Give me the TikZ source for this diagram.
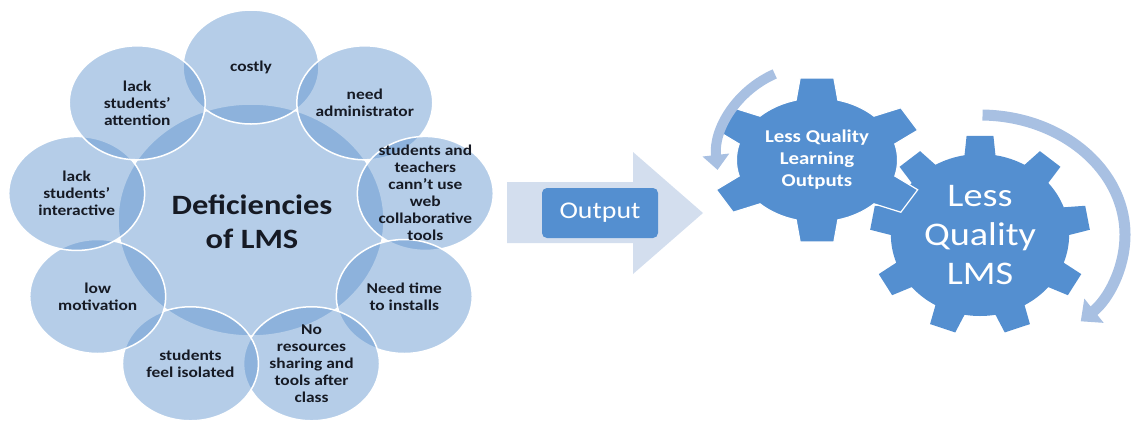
\documentclass[tikz,border=0pt]{standalone}
\usepackage{fontspec}
\setmainfont{Carlito}[FakeStretch=1.16]
\usetikzlibrary{arrows.meta,shapes.geometric}
\definecolor{circ}{RGB}{91,145,205}
\definecolor{gearblue}{RGB}{84,143,208}
\definecolor{bigarrow}{RGB}{211,222,238}
\definecolor{curv}{RGB}{168,192,226}
\definecolor{txt}{RGB}{22,26,36}
\begin{document}
\begin{tikzpicture}[x=1pt,y=-1pt,
  outerc/.style={ellipse, minimum width=136pt, minimum height=114pt, inner sep=0pt,
    fill=circ, fill opacity=0.45, draw=white, line width=1.5pt},
  centerc/.style={ellipse, minimum width=266pt, minimum height=232pt, inner sep=0pt,
    fill=circ, fill opacity=0.45, draw=white, line width=1.5pt},
  lbl/.style={align=center, text=txt, font=\fontsize{15}{17}\selectfont\bfseries, inner sep=0pt},
  gearfill/.style={fill=gearblue},
  curvarrow/.style={draw=curv, line width=10pt},
  whitetext/.style={align=center, text=white, inner sep=0pt}]
\useasboundingbox (0,0) rectangle (1138,424);

% radial circles
\node[centerc] (ctr) at (251,220) {};
\node[outerc] (c1) at ([shift={(-90:177 and 153)}]251,220) {};
\node[outerc] (c2) at ([shift={(-50:177 and 153)}]251,220) {};
\node[outerc] (c3) at ([shift={(-10:177 and 153)}]251,220) {};
\node[outerc] (c4) at ([shift={(30:177 and 153)}]251,220) {};
\node[outerc] (c5) at ([shift={(70:177 and 153)}]251,220) {};
\node[outerc] (c6) at ([shift={(110:177 and 153)}]251,220) {};
\node[outerc] (c7) at ([shift={(150:177 and 153)}]251,220) {};
\node[outerc] (c8) at ([shift={(190:177 and 153)}]251,220) {};
\node[outerc] (c9) at ([shift={(230:177 and 153)}]251,220) {};

\node[lbl, font=\fontsize{28}{34}\selectfont\bfseries] (ctrt) at (252,222) {Deficiencies\\of LMS};
\node[lbl] (t1) at (c1) {costly};
\node[lbl] (t2) at (c2) {need\\administrator};
\node[lbl] (t3) at ([yshift=1]c3) {students and\\teachers\\cann't use\\web\\collaborative\\tools};
\node[lbl] (t4) at (c4) {Need time\\to installs};
\node[lbl] (t5) at (c5) {No\\resources\\sharing and\\tools after\\class};
\node[lbl] (t6) at (c6) {students\\feel isolated};
\node[lbl] (t7) at (c7) {low\\motivation};
\node[lbl] (t8) at (c8) {lack\\students'\\interactive};
\node[lbl] (t9) at (c9) {lack\\students'\\attention};

% big arrow
\fill[bigarrow] (507,182) -- (633,182) -- (633,152) -- (703,213) -- (633,274) -- (633,243) -- (507,243) -- cycle;
\node[fill=gearblue, rounded corners=5pt, minimum width=116pt, minimum height=50pt,
  whitetext, font=\fontsize{24}{28}\selectfont] (out) at (600,213) {Output};

% gear 2 (big)
\begin{scope}[shift={(980,235)}, xscale=1.1]
\fill[gearfill] (-100:81) foreach \c in {-90,-50,-10,30,70,110,150,190,230} {
  -- ({\c-10}:81) -- ({\c-7}:100) -- ({\c+7}:100) -- ({\c+10}:81)
  arc[start angle={\c+10}, end angle={\c+30}, radius=81] } -- cycle;
\end{scope}
% gear 1 (small)
\begin{scope}[shift={(817,160)}, xscale=1.3]
\filldraw[gearfill, draw=white, line width=1.2pt] (-105:62) foreach \c in {-90,-30,30,90,150,210} {
  -- ({\c-15}:62) -- ({\c-9}:83) -- ({\c+9}:83) -- ({\c+15}:62)
  arc[start angle={\c+15}, end angle={\c+45}, radius=62] } -- cycle;
\end{scope}

% curved arrows
\coordinate (a1s) at ([shift={(-115:100 and 95)}]817,160);
\draw[curvarrow, -{Triangle[width=26pt,length=15pt]}] (a1s)
  arc[start angle=-115, end angle=-186, x radius=100, y radius=95];
\coordinate (a2s) at ([shift={(-89:145 and 120)}]980,235);
\draw[curvarrow, line width=11pt, -{Triangle[width=30pt,length=17pt]}] (a2s)
  arc[start angle=-89, end angle=46, x radius=145, y radius=120];

\node[whitetext, font=\fontsize{18}{22}\selectfont\bfseries] (g1t) at (817,160) {Less Quality\\Learning\\Outputs};
\node[whitetext, font=\fontsize{33}{39}\selectfont] (g2t) at (980,235) {Less\\Quality\\LMS};
\end{tikzpicture}
\end{document}
